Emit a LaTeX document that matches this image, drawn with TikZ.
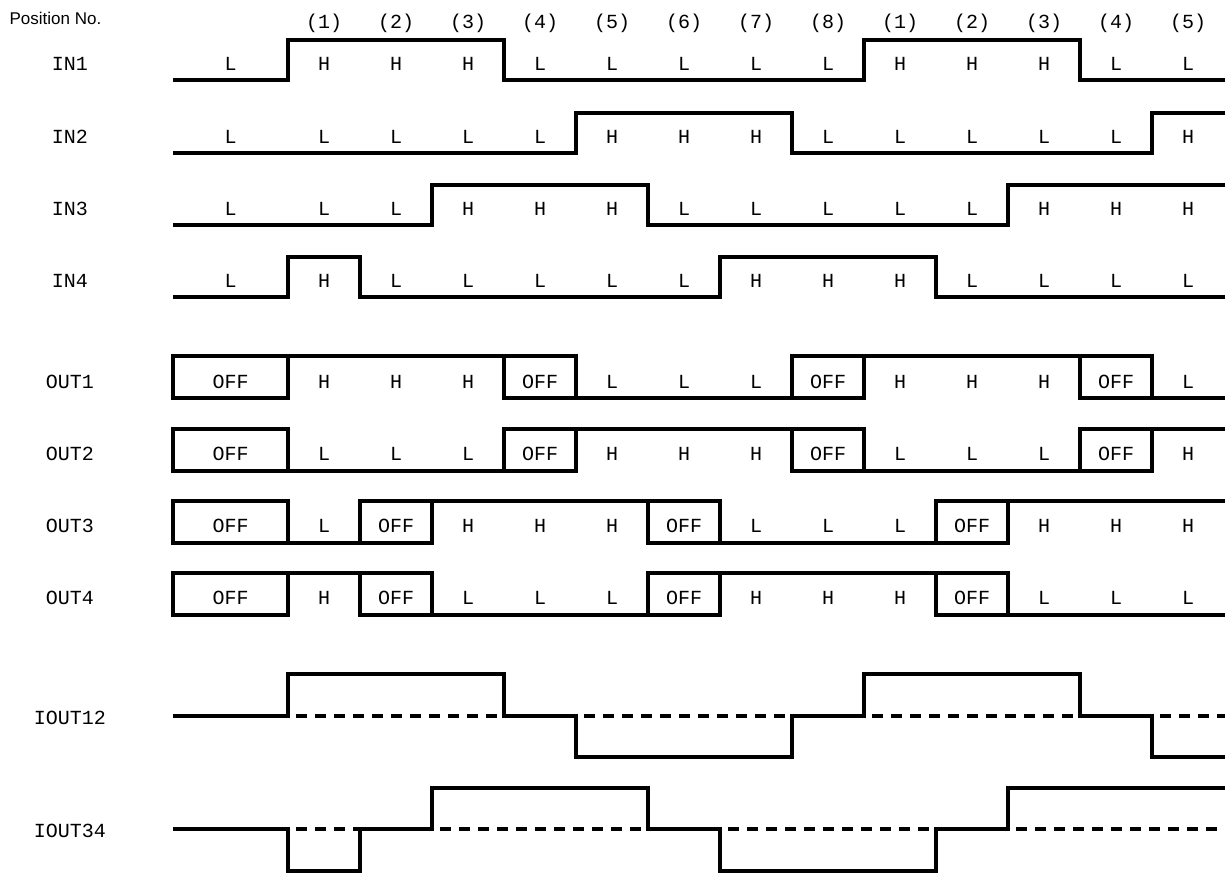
\documentclass[tikz,border=0pt]{standalone}
\usepackage{fontspec}
\setmainfont{Liberation Sans}
\newfontfamily\gothic{Liberation Mono}
\usepackage{tikz}

\begin{document}
\begin{tikzpicture}[x=0.5pt, y=-0.5pt, line width=1.65pt,
	every node/.style={font=\gothic\fontsize{10}{12}\selectfont, inner sep=0pt, anchor=base},
	idle/.style={dash pattern=on 5.5pt off 4pt, dash phase=5.5pt}]
	\useasboundingbox (0,0) rectangle (1225,875);
	\node[font=\fontsize{8.5}{10}\selectfont, anchor=base west] (posno) at (8,24) {Position No.};
	\foreach \p [count=\k] in {1,2,3,4,5,6,7,8,1,2,3,4,5}
		\node (pos-\k) at (252+72*\k,28) {(\p)};
	\foreach \r/\t/\yb/\vals in {
		in1/IN1/70/{L,H,H,H,L,L,L,L,L,H,H,H,L,L},
		in2/IN2/143/{L,L,L,L,L,H,H,H,L,L,L,L,L,H},
		in3/IN3/215/{L,L,L,H,H,H,L,L,L,L,L,H,H,H},
		in4/IN4/287/{L,H,L,L,L,L,L,H,H,H,L,L,L,L},
		out1/OUT1/388/{OFF,H,H,H,OFF,L,L,L,OFF,H,H,H,OFF,L},
		out2/OUT2/460/{OFF,L,L,L,OFF,H,H,H,OFF,L,L,L,OFF,H},
		out3/OUT3/532/{OFF,L,OFF,H,H,H,OFF,L,L,L,OFF,H,H,H},
		out4/OUT4/604/{OFF,H,OFF,L,L,L,OFF,H,H,H,OFF,L,L,L}} {
		\node (\r) at (70,\yb) {\t};
		\foreach \v [count=\k from 0] in \vals
			\node (\r-\k) at ({ifthenelse(\k==0,230.5,252+72*\k)},\yb) {\v};
	}
	\node (iout12) at (70,724) {IOUT12};
	\node (iout34) at (70,837) {IOUT34};
	\draw (173,80) -| (288,40) -| (504,80) -| (864,40) -| (1080,80) -- (1225,80);
	\draw (173,153) -| (576,113) -| (792,153) -| (1152,113) -- (1225,113);
	\draw (173,225) -| (432,185) -| (648,225) -| (1008,185) -- (1225,185);
	\draw (173,297) -| (288,257) -| (360,297) -| (720,257) -| (936,297) -- (1225,297);
	\foreach \a/\b in {173/288,504/576,792/864,1080/1152} {
		\draw (\a,356) rectangle (\b,398);
		\draw (\a,429) rectangle (\b,471);
	}
	\draw (288,356) -- (504,356) (864,356) -- (1080,356) (576,398) -- (792,398) (1152,398) -- (1225,398);
	\draw (288,471) -- (504,471) (864,471) -- (1080,471) (576,429) -- (792,429) (1152,429) -- (1225,429);
	\foreach \a/\b in {173/288,360/432,648/720,936/1008} {
		\draw (\a,501) rectangle (\b,543);
		\draw (\a,573) rectangle (\b,615);
	}
	\draw (288,543) -- (360,543) (432,501) -- (648,501) (720,543) -- (936,543) (1008,501) -- (1225,501);
	\draw (288,573) -- (360,573) (432,615) -- (648,615) (720,573) -- (936,573) (1008,615) -- (1225,615);
	\draw (173,716) -| (288,674) -| (504,716) -| (576,757) -| (792,716) -| (864,674) -| (1080,716) -| (1152,757) -- (1225,757);
	\draw[idle] (288,716) -- (504,716) (576,716) -- (792,716) (864,716) -- (1080,716) (1152,716) -- (1225,716);
	\draw (173,829) -| (288,871) -| (360,829) -| (432,788) -| (648,829) -| (720,871) -| (936,829) -| (1008,788) -- (1225,788);
	\draw[idle] (288,829) -- (360,829) (432,829) -- (648,829) (720,829) -- (936,829) (1008,829) -- (1225,829);
\end{tikzpicture}
\end{document}
